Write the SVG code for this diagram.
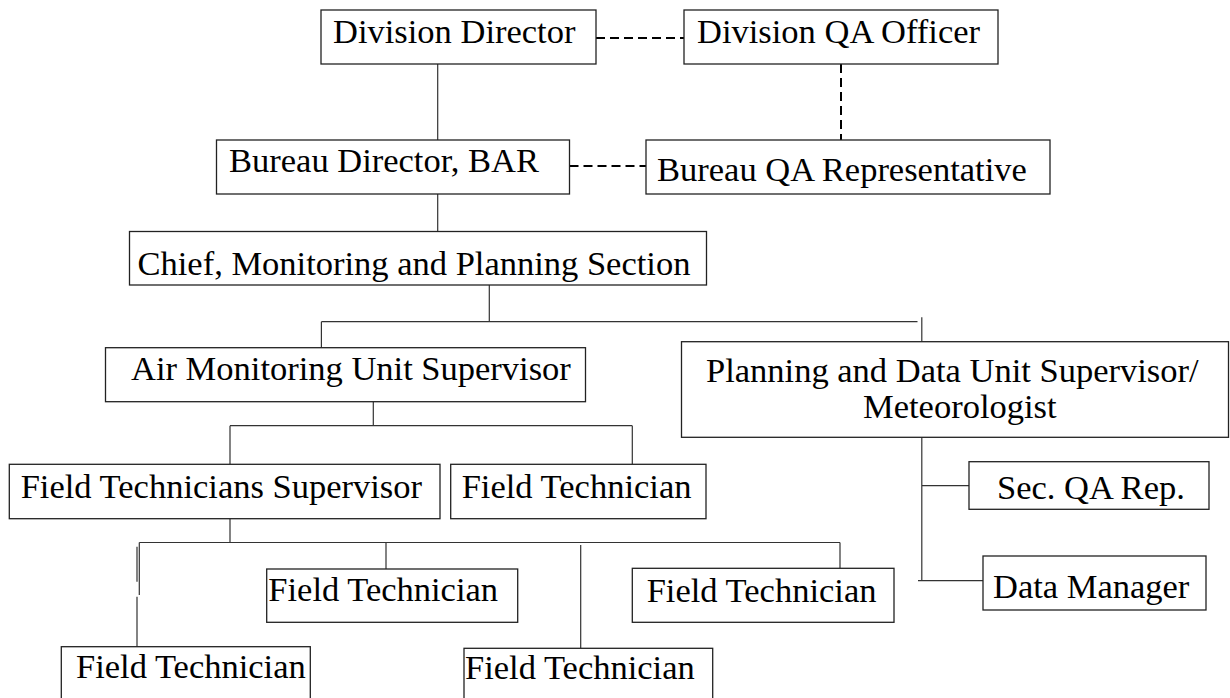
<svg xmlns="http://www.w3.org/2000/svg" width="1230" height="698" viewBox="0 0 1230 698">
<style>
.box{fill:#fff;stroke:#222;stroke-width:1.3}
.t{font-family:"Liberation Serif","Times New Roman",serif;font-size:34.5px;fill:#000}
.c{stroke:#333;stroke-width:1.2;fill:none}
.d{stroke:#000;stroke-width:2;stroke-dasharray:9,5;fill:none}
</style>
<rect width="1230" height="698" fill="#fff"/>
<g id="connectors">
<path class="d" d="M596 38H684"/>
<path class="d" d="M569.5 166H646"/>
<path class="d" d="M841 64V140"/>
<path class="c" d="M437.7 64V140M437.7 194V231.5"/>
<path class="c" d="M489.3 285V321.7M321.4 321.7H917.5M321.4 321.7V347.7M921.8 317.3V341.7"/>
<path class="c" d="M373.3 401.7V425.7M230 425.7H632.3M230 425.7V464.3M632.3 425.7V464.3"/>
<path class="c" d="M230 518.7V542.5M139.3 542.5H840M139.3 542.5V595M137 546.7V581.7M137 596.7V646.7M386 542.5V569M580.7 545V648.3M840 542.5V568.3"/>
<path class="c" d="M921.8 437.3V580.7M921.8 485.7H969M918 580.7H983"/>
</g>
<g id="n-dd"><rect class="box" x="321" y="10" width="275" height="54"/><text class="t" x="333" y="43">Division Director</text></g>
<g id="n-dqa"><rect class="box" x="684" y="10" width="314" height="54"/><text class="t" x="697" y="43">Division QA Officer</text></g>
<g id="n-bd"><rect class="box" x="216.5" y="140" width="353" height="54"/><text class="t" x="229" y="172">Bureau Director, BAR</text></g>
<g id="n-bqa"><rect class="box" x="646" y="140" width="404" height="54"/><text class="t" x="657" y="181">Bureau QA Representative</text></g>
<g id="n-chief"><rect class="box" x="129.5" y="231.5" width="577" height="53.5"/><text class="t" x="137.5" y="275">Chief, Monitoring and Planning Section</text></g>
<g id="n-amus"><rect class="box" x="105.5" y="347.7" width="480" height="54"/><text class="t" x="131" y="380">Air Monitoring Unit Supervisor</text></g>
<g id="n-pdus"><rect class="box" x="681.5" y="341.7" width="547" height="95.6"/><text class="t" x="706" y="381.7">Planning and Data Unit Supervisor/</text><text class="t" x="863" y="418.3">Meteorologist</text></g>
<g id="n-fts"><rect class="box" x="9.3" y="464.3" width="430.7" height="54.4"/><text class="t" x="20.7" y="498.3">Field Technicians Supervisor</text></g>
<g id="n-ft1"><rect class="box" x="450.7" y="464.3" width="255.3" height="54.4"/><text class="t" x="461.7" y="498.3">Field Technician</text></g>
<g id="n-secqa"><rect class="box" x="969" y="461.7" width="240" height="47.6"/><text class="t" x="997" y="499">Sec. QA Rep.</text></g>
<g id="n-dm"><rect class="box" x="983" y="556" width="223" height="54"/><text class="t" x="993" y="597.7">Data Manager</text></g>
<g id="n-ft2"><rect class="box" x="266.7" y="569" width="251" height="53.3"/><text class="t" x="268.3" y="600.7">Field Technician</text></g>
<g id="n-ft3"><rect class="box" x="632.3" y="568.3" width="261.7" height="54"/><text class="t" x="646.7" y="601.7">Field Technician</text></g>
<g id="n-ft4"><rect class="box" x="61.3" y="646.7" width="249" height="60"/><text class="t" x="76" y="678.3">Field Technician</text></g>
<g id="n-ft5"><rect class="box" x="464" y="648.3" width="248.7" height="60"/><text class="t" x="465" y="679">Field Technician</text></g>
</svg>
